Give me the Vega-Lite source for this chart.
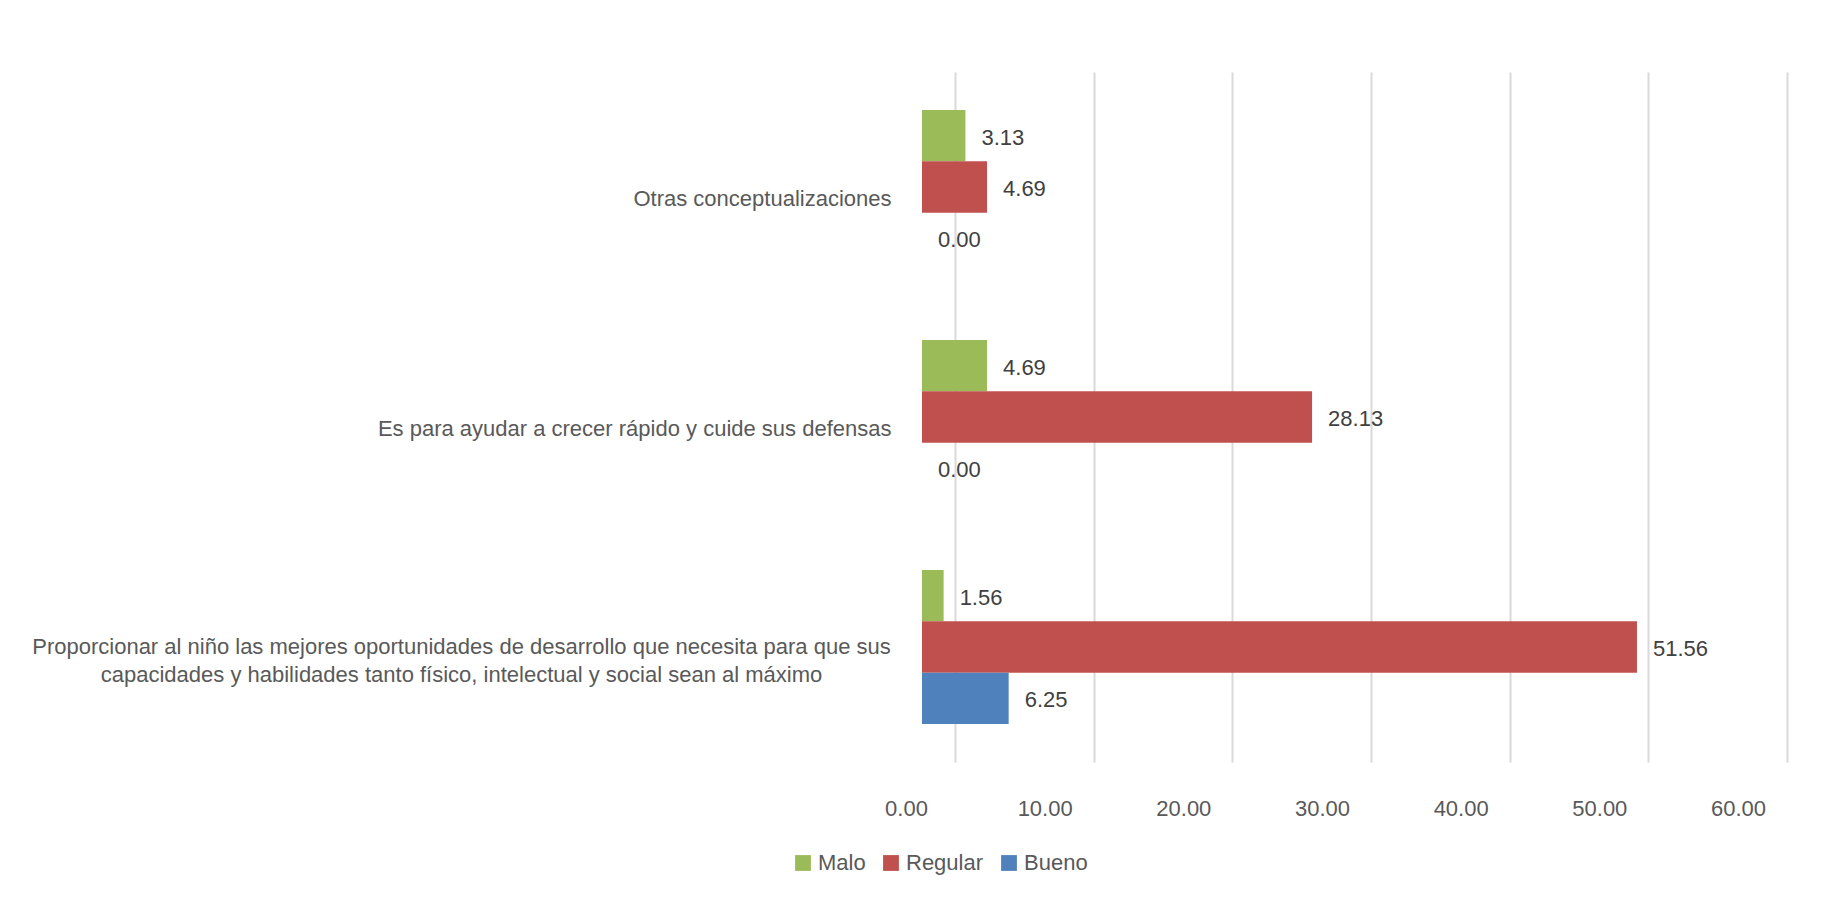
{
  "$schema": "https://vega.github.io/schema/vega-lite/v6.json",
  "autosize": {"type": "none"},
  "width": 832,
  "height": 690,
  "padding": {"left": 922, "top": 72, "right": 77, "bottom": 136},
  "background": "white",
  "config": {
    "view": {"stroke": null},
    "font": "Liberation Sans Narrow, Liberation Sans, sans-serif"
  },
  "data": {
    "values": [
      {"categoria": "Otras conceptualizaciones", "serie": "Malo", "valor": 3.13},
      {"categoria": "Otras conceptualizaciones", "serie": "Regular", "valor": 4.69},
      {"categoria": "Otras conceptualizaciones", "serie": "Bueno", "valor": 0.0},
      {"categoria": "Es para ayudar a crecer rápido y cuide sus defensas", "serie": "Malo", "valor": 4.69},
      {"categoria": "Es para ayudar a crecer rápido y cuide sus defensas", "serie": "Regular", "valor": 28.13},
      {"categoria": "Es para ayudar a crecer rápido y cuide sus defensas", "serie": "Bueno", "valor": 0.0},
      {"categoria": "Proporcionar al niño las mejores oportunidades de desarrollo que necesita para que sus|capacidades y habilidades tanto físico, intelectual y social sean al máximo", "serie": "Malo", "valor": 1.56},
      {"categoria": "Proporcionar al niño las mejores oportunidades de desarrollo que necesita para que sus|capacidades y habilidades tanto físico, intelectual y social sean al máximo", "serie": "Regular", "valor": 51.56},
      {"categoria": "Proporcionar al niño las mejores oportunidades de desarrollo que necesita para que sus|capacidades y habilidades tanto físico, intelectual y social sean al máximo", "serie": "Bueno", "valor": 6.25}
    ]
  },
  "encoding": {
    "y": {
      "field": "categoria",
      "type": "nominal",
      "sort": null,
      "scale": {"paddingInner": 0.33, "paddingOuter": 0.165},
      "axis": {
        "title": null,
        "domain": false,
        "ticks": false,
        "labelExpr": "split(datum.label, '|')",
        "labelFontSize": 22,
        "labelColor": "#595959",
        "labelLimit": 1000,
        "labelLineHeight": 28,
        "labelAlign": {"condition": {"test": "indexof(datum.value, '|') >= 0", "value": "center"}, "value": "right"},
        "labelPadding": {"condition": {"test": "indexof(datum.value, '|') >= 0", "value": 461}, "value": 31},
        "labelOffset": {"condition": {"test": "indexof(datum.value, '|') >= 0", "value": 0}, "value": 12}
      }
    },
    "yOffset": {"field": "serie", "sort": ["Malo", "Regular", "Bueno"]},
    "x": {
      "field": "valor",
      "type": "quantitative",
      "scale": {"domain": [0, 60], "nice": false},
      "axis": {
        "title": null,
        "values": [0, 10, 20, 30, 40, 50, 60],
        "format": ".2f",
        "domain": false,
        "ticks": false,
        "grid": true,
        "gridColor": "#d9d9d9",
        "gridWidth": 2,
        "tickOffset": 33,
        "labelOffset": -49,
        "labelFontSize": 22,
        "labelColor": "#595959",
        "labelPadding": 36,
        "labelFlush": false
      }
    },
    "color": {
      "field": "serie",
      "type": "nominal",
      "scale": {"domain": ["Malo", "Regular", "Bueno"], "range": ["#9BBB59", "#C0504D", "#4F81BD"]},
      "legend": {
        "title": null,
        "orient": "none",
        "direction": "horizontal",
        "legendX": -130,
        "legendY": 780,
        "symbolType": "square",
        "symbolSize": 250,
        "symbolStrokeWidth": 0,
        "labelFontSize": 22,
        "labelColor": "#595959",
        "columnPadding": 14
      }
    }
  },
  "layer": [
    {"mark": {"type": "bar", "stroke": null}},
    {
      "mark": {"type": "text", "align": "left", "baseline": "middle", "dx": 16, "dy": 2, "fontSize": 22, "color": "#404040"},
      "encoding": {
        "text": {"field": "valor", "type": "quantitative", "format": ".2f"},
        "color": {"value": "#404040"}
      }
    }
  ]
}
